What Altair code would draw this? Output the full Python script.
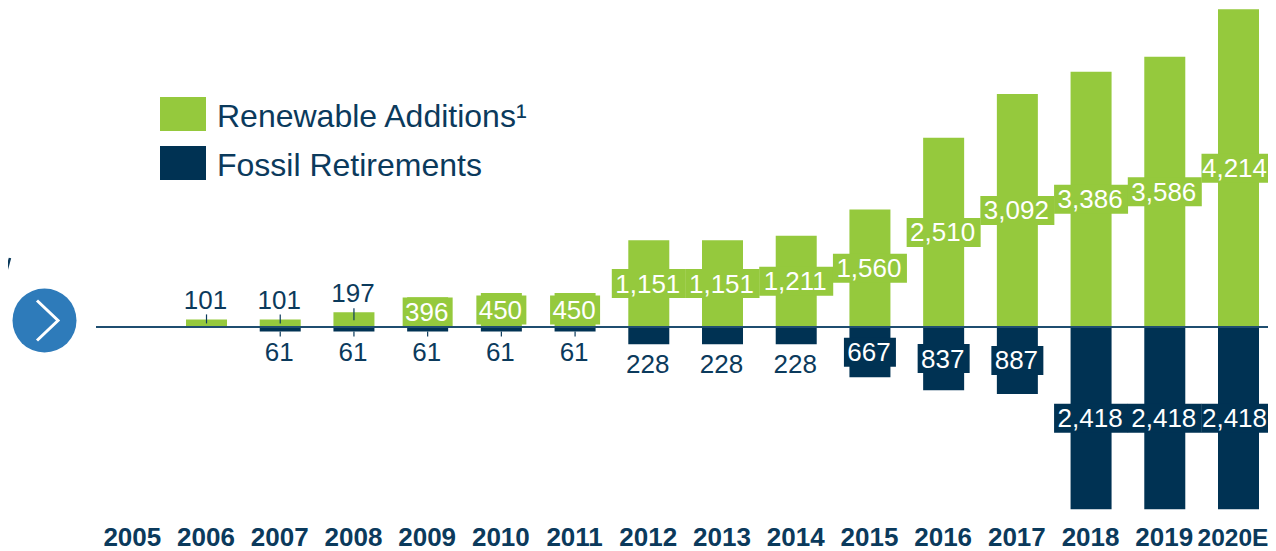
import altair as alt
import pandas as pd

years = ["2005","2006","2007","2008","2009","2010","2011","2012","2013","2014","2015","2016","2017","2018","2019","2020E"]
renewable = [None,101,101,197,396,450,450,1151,1151,1211,1560,2510,3092,3386,3586,4214]
fossil = [None,None,61,61,61,61,61,228,228,228,667,837,887,2418,2418,2418]
SERIES = ["Renewable Additions¹", "Fossil Retirements"]
GREEN, NAVY, BLUE, INK = "#95C93D", "#003253", "#2E7BBA", "#0B3A5C"
FONT = "Liberation Sans"
LAST = years[-1]

rows = []
for y, r, f in zip(years, renewable, fossil):
    if r is not None:
        rows.append(dict(year=y, series=SERIES[0], value=r, label=f"{r:,}"))
    if f is not None:
        rows.append(dict(year=y, series=SERIES[1], value=-f, label=f"{f:,}"))
df = pd.DataFrame(rows)
df["mid"] = df["value"] / 2
df["abs"] = df["value"].abs()

x = alt.X("year:N", scale=alt.Scale(type="point", domain=years, range=[124.8, 1230.5], padding=0, round=False),
          axis=alt.Axis(title=None, domain=False, ticks=False, grid=False, labelAngle=0, labelOverlap=False,
                        labelFont=FONT, labelFontSize=26, labelFontWeight="bold", labelColor=INK, labelPadding=2,
                        labelOffset=-1, labelExpr=f"datum.label === '{LAST}' ? '' : datum.label"))
yscale = alt.Scale(domain=[-2586, 4231], range=[514, 0], nice=False, zero=False)
y = alt.Y("value:Q", scale=yscale, axis=None)
ym = alt.Y("mid:Q", scale=yscale, axis=None)

bars = alt.Chart(df).mark_bar(size=41).encode(
    x=x, y=y, y2=alt.datum(0),
    color=alt.Color("series:N", scale=alt.Scale(domain=SERIES, range=[GREEN, NAVY]),
        legend=alt.Legend(orient="none", legendX=152, legendY=85.5, title=None,
            symbolType="M-1,-0.85H1V0.63H-1Z", symbolSize=2116, symbolStrokeWidth=0, symbolOpacity=1,
            labelFont=FONT, labelFontSize=32, labelColor=INK, labelOffset=11, rowPadding=10, labelLimit=500)),
)

def box(d, width, color):
    return alt.Chart(d).mark_tick(size=width, thickness=29, color=color, opacity=1).encode(x=x, y=ym)

is_g = df["series"] == SERIES[0]
inside = df["abs"] >= 300
wide = df["abs"] >= 1000
is_last = df["year"] == LAST
boxes = [
    box(df[is_g & inside & ~wide], 50, GREEN),
    box(df[is_g & wide], 74, GREEN),
    box(df[~is_g & inside & ~wide], 52, NAVY),
    box(df[~is_g & wide], 74, NAVY),
]
inner = alt.Chart(df[inside & ~is_last]).mark_text(font=FONT, fontSize=26, color="white", baseline="middle", dy=1, dx=-1).encode(
    x=x, y=ym, text="label:N")
# The page keeps the last column's text inside the drawable width, so it is nudged left.
inner_last = alt.Chart(df[inside & is_last]).mark_text(font=FONT, fontSize=26, color="white", baseline="middle", dy=1, dx=-4).encode(
    x=x, y=ym, text="label:N")
year_last = alt.Chart(pd.DataFrame({"year": [LAST]})).mark_text(font=FONT, fontSize=24.5, fontWeight="bold", color=INK, baseline="top", dx=-5.5).encode(
    x=x, y=alt.value(518.5), text="year:N")
above = alt.Chart(df[is_g & ~inside]).mark_text(font=FONT, fontSize=26, color=INK, baseline="middle", dy=-18.5, dx=-1).encode(
    x=x, y=y, text="label:N")
below = alt.Chart(df[~is_g & ~inside]).mark_text(font=FONT, fontSize=26, color=INK, baseline="middle", dy=21, dx=-1).encode(
    x=x, y=y, text="label:N")

lead_up_a = alt.Chart(df[is_g & (df["abs"] < 150)]).mark_rule(color=INK, strokeWidth=1.2, yOffset=-5, y2Offset=4).encode(
    x=x, y=y, y2=alt.Y2("value:Q"))
lead_up_b = alt.Chart(df[is_g & (df["abs"] >= 150) & ~inside]).mark_rule(color=INK, strokeWidth=1.2, yOffset=-4, y2Offset=8).encode(
    x=x, y=y, y2=alt.Y2("value:Q"))
lead_dn = alt.Chart(df[~is_g & (df["abs"] < 100)]).mark_rule(color=INK, strokeWidth=1.2, yOffset=0, y2Offset=5).encode(
    x=x, y=y, y2=alt.Y2("value:Q"))

one = pd.DataFrame({"k": [0]})
baseline = alt.Chart(one).mark_rule(color="#1F4E70", strokeWidth=2).encode(
    y=alt.Y("zero:Q", scale=yscale, axis=None), x=alt.value(88), x2=alt.value(1260)
).transform_calculate(zero="0")
circle = alt.Chart(one).mark_point(shape="circle", filled=True, fill=BLUE, opacity=1, size=4096, stroke=None).encode(
    x=alt.value(36.5), y=alt.value(312.5))
chevron = alt.Chart(one).mark_point(shape="M-0.525,-1L0.525,0L-0.525,1", filled=False, stroke="white", strokeWidth=3,
                                    opacity=1, size=1600).encode(x=alt.value(39.5), y=alt.value(312.5))
slash = alt.Chart(one).mark_rule(color=INK, strokeWidth=2.5).encode(
    x=alt.value(-6.5), x2=alt.value(2), y=alt.value(280), y2=alt.value(250))

chart = alt.layer(
    bars, *boxes, baseline, inner, inner_last, year_last, above, below, lead_up_a, lead_up_b, lead_dn, circle, chevron, slash
).properties(
    width=1260, height=514, padding={"left": 0, "top": 0, "right": 0, "bottom": 29},
    autosize=alt.AutoSizeParams(type="none"), background="white",
).configure_view(stroke=None)

chart.save("out.html", embed_options={"renderer": "svg", "actions": False})
